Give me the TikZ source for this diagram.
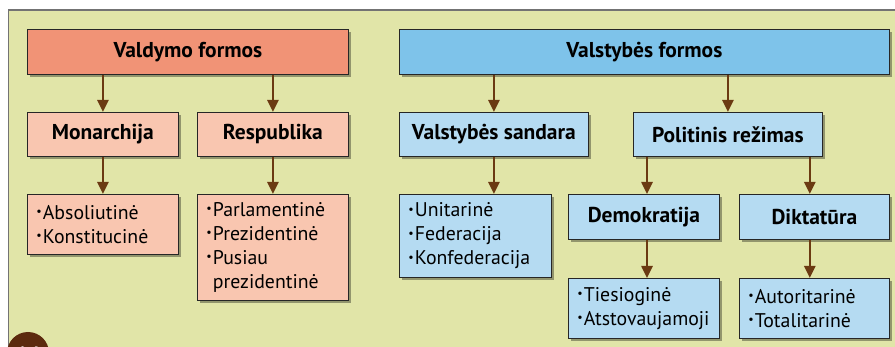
\documentclass[tikz,border=0pt]{standalone}
\usepackage{fontspec}
\setmainfont{PT Sans}
\usetikzlibrary{arrows.meta,shadows,calc}
\definecolor{panelbg}{HTML}{E1E5A8}
\definecolor{salmon}{HTML}{F19376}
\definecolor{pinkl}{HTML}{F9C6B0}
\definecolor{blued}{HTML}{7EC3EA}
\definecolor{bluel}{HTML}{B5DBF2}
\definecolor{arrowc}{HTML}{6B3A12}
\definecolor{circc}{HTML}{5C2A0E}
\newcommand\itm[1]{\makebox[6.5pt][l]{\raisebox{3.5pt}{\fontsize{12}{12}\selectfont •}}#1}
\tikzset{
  base/.style={draw=black!85, line width=0.8pt, anchor=north west,
    drop shadow={shadow xshift=2.5pt, shadow yshift=-2.5pt, opacity=0.35, fill=black},
    font=\fontsize{19.8}{24}\selectfont},
  head/.style={base, inner sep=0pt, align=center, font=\bfseries\fontsize{21.5}{24}\selectfont},
  lst/.style={base, inner xsep=9pt, inner ysep=0pt, align=left},
  arr/.style={draw=arrowc, line width=2.5pt, -{Triangle[width=11pt,length=12pt]}}
}
\begin{document}
\begin{tikzpicture}[x=1pt,y=-1pt]
\useasboundingbox (0,0) rectangle (895,347);
\clip (0,0) rectangle (895,347);
\fill[white] (0,0) rectangle (895,347);
\fill[panelbg] (8.5,10) rectangle (900,352);
\draw[black!55, line width=1.2pt] (8.5,352) -- (8.5,10) -- (900,10);
% left tree
\node[head, fill=salmon, minimum width=321pt, minimum height=45pt] (vf) at (27,29) {Valdymo formos};
\node[head, fill=pinkl, minimum width=151pt, minimum height=44pt] (mon) at (27,112) {Monarchija};
\node[head, fill=pinkl, minimum width=151pt, minimum height=44pt] (res) at (197,112) {Respublika};
\node[lst, fill=pinkl, text width=133pt, minimum height=60pt] (monl) at (27,194) {\itm{Absoliutinė}\\\itm{Konstitucinė}};
\node[lst, fill=pinkl, text width=133pt, minimum height=106pt] (resl) at (197,194) {\itm{Parlamentinė}\\\itm{Prezidentinė}\\\itm{Pusiau}\\\hspace*{6.5pt}prezidentinė};
% right tree
\node[head, fill=blued, minimum width=490pt, minimum height=45pt] (sf) at (399,29) {Valstybės formos};
\node[head, fill=bluel, minimum width=189pt, minimum height=44pt] (vs) at (399,112) {Valstybės sandara};
\node[head, fill=bluel, minimum width=189pt, minimum height=44pt] (pr) at (633,112) {Politinis režimas};
\node[lst, fill=bluel, text width=134pt, minimum height=83pt] (vsl) at (399,194) {\itm{Unitarinė}\\\itm{Federacija}\\\itm{Konfederacija}};
\node[head, fill=bluel, minimum width=151pt, minimum height=45pt] (dem) at (568,194) {Demokratija};
\node[head, fill=bluel, minimum width=150pt, minimum height=45pt] (dik) at (739,194) {Diktatūra};
\node[lst, fill=bluel, text width=133pt, minimum height=60pt] (deml) at (568,278) {\itm{Tiesioginė}\\\itm{Atstovaujamoji}};
\node[lst, fill=bluel, text width=132pt, minimum height=60pt] (dikl) at (739,278) {\itm{Autoritarinė}\\\itm{Totalitarinė}};
% arrows
\draw[arr] (vf.south -| mon.north) -- (mon.north);
\draw[arr] (vf.south -| res.north) -- (res.north);
\draw[arr] (mon.south) -- (monl.north);
\draw[arr] (res.south) -- (resl.north);
\draw[arr] (sf.south -| vs.north) -- (vs.north);
\draw[arr] (sf.south -| pr.north) -- (pr.north);
\draw[arr] (vs.south) -- (vs.south |- vsl.north);
\coordinate (xd) at ([xshift=14pt]pr.south west);
\coordinate (xk) at ([xshift=-13pt]pr.south east);
\draw[arr] (xd) -- (xd |- dem.north);
\draw[arr] (xk) -- (xk |- dik.north);
\draw[arr] (dem.south -| xd) -- (deml.north -| xd);
\draw[arr] (dik.south -| xk) -- (dikl.north -| xk);
% page badge
\fill[circc] (28,353) circle (21);
\node[text=white, font=\bfseries\fontsize{22}{22}\selectfont] (pg) at (28,355) {14};
\end{tikzpicture}
\end{document}
